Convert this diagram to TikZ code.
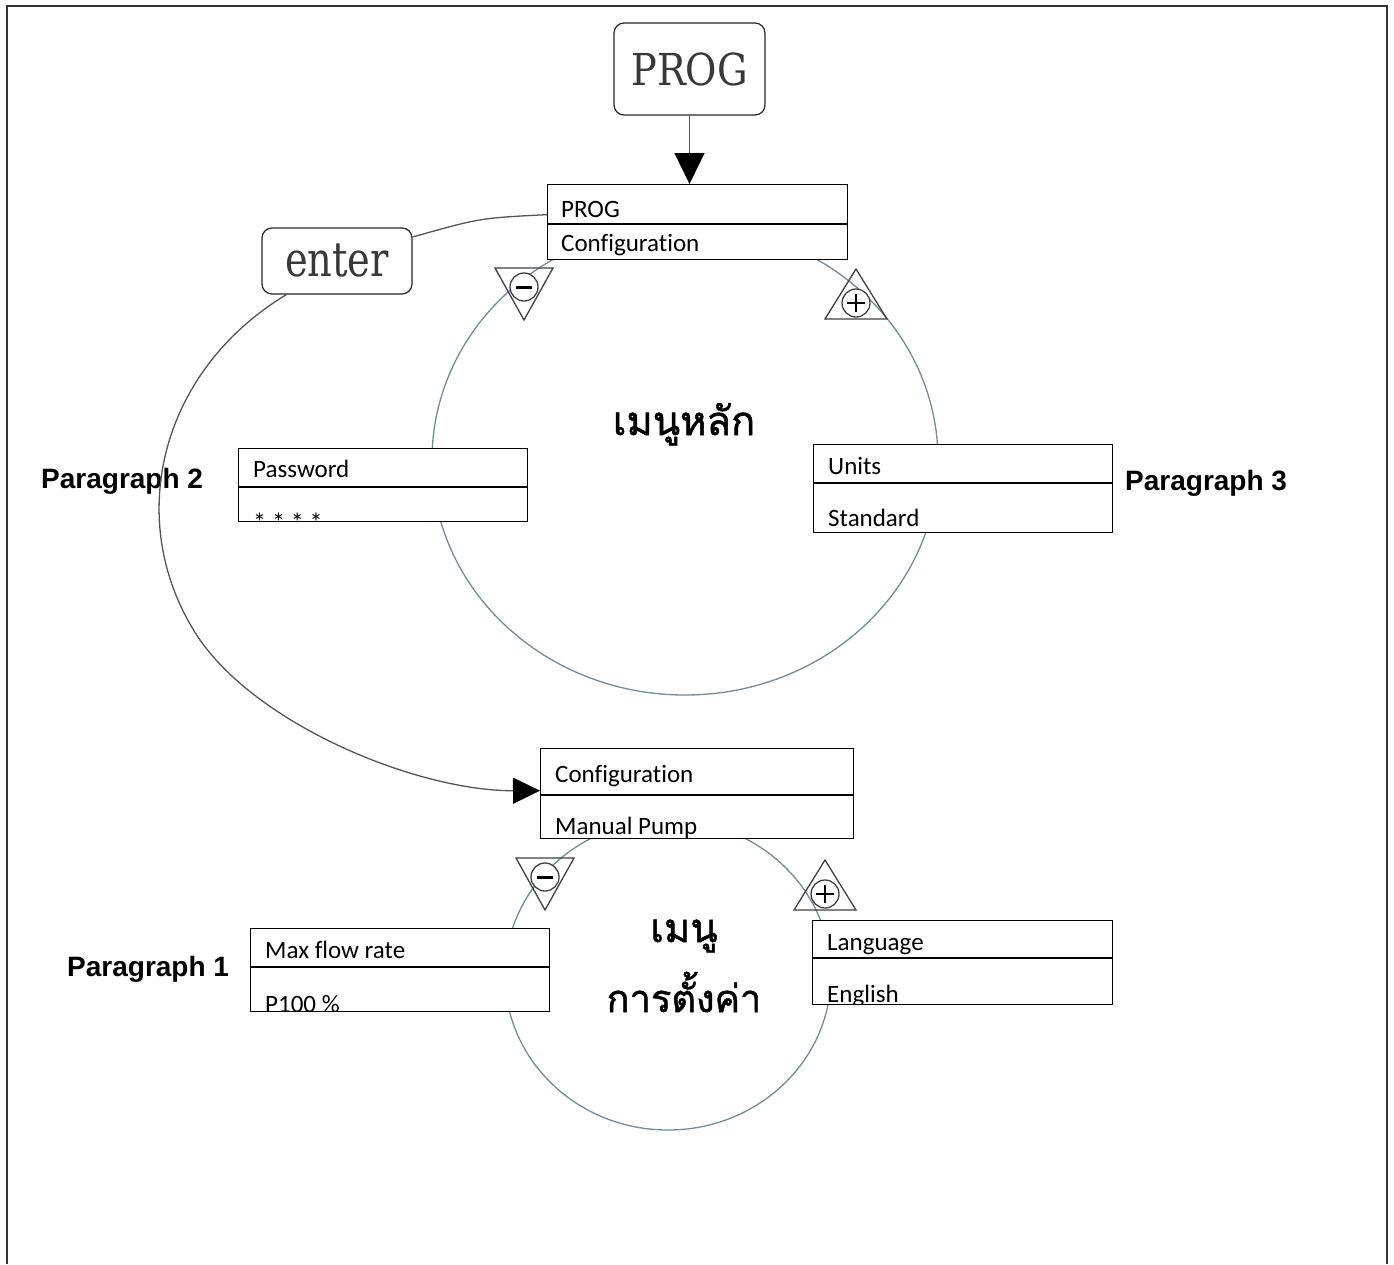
\documentclass[tikz,border=0pt]{standalone}
\usepackage{fontspec}
\usetikzlibrary{arrows.meta}
\setmainfont[Ligatures=NoCommon]{Carlito}
\newfontfamily\thaifont[Script=Thai, FakeBold=1.3]{Loma}
\newfontfamily\slabfont[FakeStretch=0.87]{DejaVu Serif}
\newfontfamily\slabfontB[FakeStretch=0.8]{DejaVu Serif}
\newfontfamily\parafont{Liberation Sans}
\definecolor{ringc}{RGB}{110,140,155}
\definecolor{linec}{RGB}{85,85,85}
\begin{document}
\begin{tikzpicture}[x=1pt,y=-1pt,
  menubox/.style={draw=black, line width=1.3pt, fill=white, rectangle, inner sep=0pt, anchor=north west},
  divider/.style={draw=black, line width=1.3pt},
  keybox/.style={draw=black!85, line width=1.2pt, fill=white, rounded corners=10pt, inner sep=0pt, text=black!78},
  itemtxt/.style={font=\fontsize{25}{30}\selectfont, anchor=base west, inner sep=0pt},
  paratxt/.style={font=\parafont\bfseries\fontsize{28}{32}\selectfont, anchor=base west, inner sep=0pt},
  thaitxt/.style={font=\thaifont\fontsize{40}{48}\selectfont, anchor=base, inner sep=0pt},
  ring/.style={draw=ringc, line width=1.3pt},
  conn/.style={draw=linec, line width=1.3pt},
  btn/.style={draw=black!75, line width=1.3pt},
  minusbtn/.pic={
    \draw[btn] (-29,-19) -- (29,-19) -- (0,33) -- cycle;
    \draw[btn, fill=white] (0,0) circle (14);
    \draw[black, line width=3pt] (-8,0) -- (8,0);
  },
  plusbtn/.pic={
    \draw[btn] (0,-34) -- (31,16) -- (-31,16) -- cycle;
    \draw[btn, fill=white] (0,0) circle (14);
    \draw[black, line width=1.6pt] (-9,0) -- (9,0) (0,-9) -- (0,9);
  },
]
\useasboundingbox (0,0) rectangle (1394,1264);
\draw[black!80, line width=2pt] (7,1264) -- (7,6) -- (1387,6) -- (1387,1264);

% rings
\draw[ring] (685,460) ellipse [x radius=253, y radius=235];
\draw[ring] (668,975) ellipse [x radius=163, y radius=155];

% buttons
\pic at (524,287) {minusbtn};
\pic at (856,303) {plusbtn};
\pic at (545,877) {minusbtn};
\pic at (825,894) {plusbtn};

% key boxes
\node[keybox, minimum width=151pt, minimum height=92pt, font=\slabfont\fontsize{44}{50}\selectfont] (prog) at (689.5,69) {PROG};
\node[keybox, minimum width=150pt, minimum height=66pt, font=\slabfontB\fontsize{48}{56}\selectfont] (enter) at (337,261) {enter};

% menu boxes
\node[menubox, minimum width=300pt, minimum height=75pt] (top) at (547,184) {};
\draw[divider] (547,224) -- (847,224);
\node[itemtxt] (topa) at (561,217) {PROG};
\node[itemtxt] (topb) at (561,251) {Configuration};

\node[menubox, minimum width=289pt, minimum height=73pt] (pw) at (238,448) {};
\draw[divider] (238,487) -- (527,487);
\node[itemtxt] (pwa) at (253,477) {Password};
\begin{scope}
\clip (238,448) rectangle (527,521);
\node[itemtxt, font=\fontsize{26}{30}\selectfont] (pwb) at (253,531) {* * * *};
\end{scope}

\node[menubox, minimum width=299pt, minimum height=88pt] (units) at (813,444) {};
\draw[divider] (813,483) -- (1112,483);
\node[itemtxt] (unitsa) at (828,474) {Units};
\node[itemtxt] (unitsb) at (828,526) {Standard};

\node[menubox, minimum width=313pt, minimum height=90pt] (cfg) at (540,748) {};
\draw[divider] (540,795) -- (853,795);
\node[itemtxt] (cfga) at (555,782) {Configuration};
\begin{scope}
\clip (540,748) rectangle (853,838);
\node[itemtxt] (cfgb) at (555,834) {Manual Pump};
\end{scope}

\node[menubox, minimum width=299pt, minimum height=83pt] (mfr) at (250,928) {};
\draw[divider] (250,967) -- (549,967);
\node[itemtxt] (mfra) at (265,958) {Max flow rate};
\begin{scope}
\clip (250,928) rectangle (549,1011);
\node[itemtxt] (mfrb) at (265,1012) {P100 \%};
\end{scope}

\node[menubox, minimum width=300pt, minimum height=84pt] (lang) at (812,920) {};
\draw[divider] (812,958) -- (1112,958);
\node[itemtxt] (langa) at (827,950) {Language};
\begin{scope}
\clip (812,920) rectangle (1112,1004);
\node[itemtxt] (langb) at (827,1002) {English};
\end{scope}

% labels
\node[thaitxt] (mainmenu) at (684,435) {เมนูหลัก};
\node[thaitxt] (setmenua) at (684,942) {เมนู};
\node[thaitxt, font=\thaifont\fontsize{38}{46}\selectfont] (setmenub) at (684,1012) {การตั้งค่า};
\node[paratxt] (p2) at (41,488) {Paragraph 2};
\node[paratxt] (p3) at (1125,490) {Paragraph 3};
\node[paratxt] (p1) at (67,976) {Paragraph 1};

% connectors
\draw[conn, -{Triangle[length=31pt,width=30pt,color=black,fill=black]}] (prog.south) -- (prog.south |- top.north);
\draw[conn] ([yshift=7.5pt]top.west) .. controls (480,218) .. ([yshift=24pt]enter.east);
\draw[conn, -{Triangle[length=27pt,width=26pt,color=black,fill=black]}] ([xshift=25pt]enter.south west) .. controls (158,372) and (122,525) .. (200,640) .. controls (262,728) and (420,791) .. ([yshift=3pt]cfg.west);
\end{tikzpicture}
\end{document}
